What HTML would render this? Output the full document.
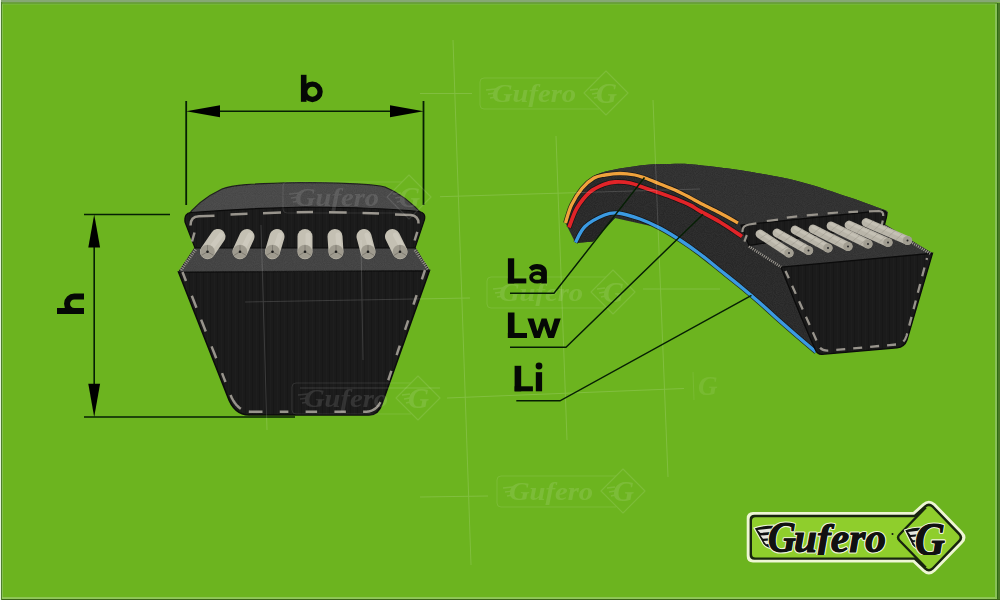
<!DOCTYPE html>
<html><head><meta charset="utf-8"><style>
html,body{margin:0;padding:0;width:1000px;height:600px;overflow:hidden;background:#6cb41f;}
svg{display:block;position:absolute;left:0;top:0;}
</style></head><body>
<svg width="1000" height="600" viewBox="0 0 1000 600">
<defs>
<filter id="grain" x="0" y="0" width="100%" height="100%" color-interpolation-filters="sRGB">
<feTurbulence type="fractalNoise" baseFrequency="1.1" numOctaves="1" seed="7" result="t"/>
<feColorMatrix in="t" type="matrix" values="0 0 0 0 1  0 0 0 0 1  0 0 0 0 1  0 0 0 0.09 0" result="n"/>
<feComposite in="n" in2="SourceAlpha" operator="in" result="nn"/>
<feMerge><feMergeNode in="SourceGraphic"/><feMergeNode in="nn"/></feMerge>
</filter>
<pattern id="stripes" width="7" height="10" patternUnits="userSpaceOnUse">
<rect width="7" height="10" fill="#1b1b1b"/>
<rect x="0" width="1" height="10" fill="#171717"/>
<rect x="4" width="1" height="10" fill="#1e1e1e"/>
</pattern>
<clipPath id="logoclip"><rect x="740" y="510" width="240" height="45"/></clipPath>
</defs>
<rect x="0" y="0" width="1000" height="600" fill="#6cb41f"/>

<rect x="0" y="0" width="1000" height="2.5" fill="#86a874"/>
<rect x="1" y="2.5" width="996" height="1.2" fill="#5e8e3a"/>
<rect x="2" y="3.7" width="993" height="1" fill="#78b840"/>
<rect x="2" y="4" width="1" height="594" fill="#86c050"/>
<rect x="995" y="4" width="2" height="593" fill="#88c058"/>
<rect x="997" y="3" width="1" height="597" fill="#2e6a12"/>
<rect x="998" y="3" width="2" height="597" fill="#4a7a26"/>
<rect x="2" y="597.3" width="995" height="1.5" fill="#9ccc6c"/>
<rect x="1" y="599" width="999" height="1" fill="#3a6418"/>
<rect x="1" y="2" width="1" height="598" fill="#4e7c30"/>
<rect x="0" y="0" width="1" height="600" fill="#e6f4dc"/>
<line x1="186.2" y1="101" x2="186.2" y2="205" stroke="#061f04" stroke-width="1.8"/>
<line x1="423.5" y1="101" x2="423.5" y2="205" stroke="#061f04" stroke-width="1.8"/>
<line x1="205" y1="111.2" x2="405" y2="111.2" stroke="#061f04" stroke-width="1.6"/>
<path d="M186.2,111.2 L220,105.2 L220,117.2 Z" fill="#000"/>
<path d="M423.5,111.2 L390,105.2 L390,117.2 Z" fill="#000"/>
<g fill="#050805"><rect x="300.9" y="74.8" width="5.6" height="27"/></g>
<circle cx="312.4" cy="91.8" r="7.7" fill="none" stroke="#050805" stroke-width="5.3"/>
<line x1="84" y1="214.5" x2="170" y2="214.5" stroke="#061f04" stroke-width="1.6"/>
<line x1="84" y1="417" x2="295" y2="417" stroke="#061f04" stroke-width="1.6"/>
<line x1="94.2" y1="240" x2="94.2" y2="390" stroke="#061f04" stroke-width="1.6"/>
<path d="M94.2,214.5 L88.3,247.5 L100.1,247.5 Z" fill="#000"/>
<path d="M94.2,417 L88.3,383.7 L100.1,383.7 Z" fill="#000"/>
<g transform="matrix(0,-1,1,0,57,314)"><rect x="0" y="0" width="6" height="27" fill="#050805"/><path d="M3,27 L3,17.3 A7.25,7.25 0 0 1 17.5,17.3 L17.5,27" fill="none" stroke="#050805" stroke-width="6"/></g>
<g><path d="M178.5,272 L429.5,270.5 L382,404 Q378.5,415 369,415 L249,415 Q234,415 227.4,396 Z" fill="url(#stripes)" stroke="#0b0b0b" stroke-width="1.5"/><g filter="url(#grain)"><path d="M195,247.5 L415,247.5 L429.5,270.5 L178.5,272 Z" fill="#3c3c3c" stroke="#101010" stroke-width="1"/><path d="M185,219 C192,209 205,197 222,189 C232,185 250,183.5 305,182.5 C350,183 372,184 385,187 C400,193 414,205 424,216 L190,214 Z" fill="#424242" stroke="#161616" stroke-width="1.2"/></g><path d="M191,212.5 Q250,208 305,207 Q380,207.5 419,211.5 Q426,212.5 424.5,219.5 L415,248 L195,248 L185,222 Q184,213 191,212.5 Z" fill="url(#stripes)" stroke="#0b0b0b" stroke-width="1.2"/><path d="M192,241.5 L194.5,232.5 M190.5,225.5 Q190.5,216.5 199,216.3 L214.5,215.7 M230.5,214.4 L247.5,213.8 M263,213.2 L281,212.6 M296.7,212.3 L313,212.1 M329,212.2 L346.7,212.4 M362.5,212.9 L379,213.4 M395,214.4 L411,215 Q418.5,215.8 418.5,223.5 M417.3,231.8 L414.6,240.5" fill="none" stroke="#98948c" stroke-width="2.5" stroke-linecap="butt"/><path d="M182.50,272.00 L183.66,274.98 L184.82,277.95 L185.99,280.93 M191.80,295.80 L192.96,298.77 L194.12,301.75 L195.29,304.73 L196.45,307.70 M201.10,319.60 L202.26,322.57 L203.43,325.55 L204.59,328.52 L205.75,331.50 M211.56,346.38 L212.72,349.35 L213.89,352.32 L215.05,355.30 L216.21,358.27 M222.03,373.15 L223.19,376.12 L224.35,379.10 L225.51,382.07 M230.48,394.93 L230.88,395.85 L231.28,396.74 L231.69,397.61 L232.12,398.45 L232.56,399.27 L233.00,400.06 L233.46,400.82 L233.92,401.56 L234.40,402.27 L234.88,402.95 L235.38,403.61 L235.88,404.25 L236.39,404.86 L236.92,405.44 L237.46,405.99 L238.00,406.53 L238.56,407.03 L239.12,407.51 L239.69,407.96 L240.28,408.39 L240.88,408.79 M248.80,411.58 L249.52,411.65 L250.25,411.69 L251.00,411.70 L253.88,411.70 L256.75,411.70 L259.62,411.70 L262.50,411.70 M279.75,411.70 L282.62,411.70 L285.50,411.70 L288.38,411.70 M305.62,411.70 L308.50,411.70 L311.38,411.70 L314.25,411.70 L317.12,411.70 M334.38,411.70 L337.25,411.70 L340.12,411.70 L343.00,411.70 L345.88,411.70 M363.12,411.70 L366.00,411.70 L366.60,411.68 L367.18,411.64 L367.76,411.58 L368.33,411.51 L368.89,411.41 L369.44,411.30 L369.99,411.16 L370.52,411.01 L371.05,410.84 L371.56,410.64 L372.07,410.43 L372.57,410.20 L373.06,409.95 L373.54,409.69 L374.02,409.40 L374.48,409.09 L374.94,408.77 L375.38,408.42 L375.82,408.06 L376.25,407.68 L376.67,407.27 L377.08,406.85 L377.49,406.41 L377.88,405.95 L378.27,405.47 L378.64,404.98 L379.01,404.46 L379.37,403.92 L379.72,403.37 L380.06,402.79 L380.40,402.20 M388.25,380.25 L389.30,377.10 L390.35,373.95 L391.40,370.80 M396.65,355.05 L397.70,351.90 L398.75,348.75 L399.80,345.60 M405.05,329.85 L406.10,326.70 L407.15,323.55 L408.20,320.40 M413.45,304.65 L414.50,301.50 L415.55,298.35 L416.60,295.20 M421.85,279.45 L422.90,276.30 L423.95,273.15 L425.00,270.00" fill="none" stroke="#98948c" stroke-width="2.5"/><path d="M195.5,249.5 L180.5,270.5" stroke="#9a968e" stroke-width="3.2" stroke-dasharray="1 1.2"/><path d="M415,250 L428,269" stroke="#9a968e" stroke-width="3.2" stroke-dasharray="1 1.2"/><line x1="218" y1="236.5" x2="207.5" y2="251.7" stroke="#c4c0b3" stroke-width="15" stroke-linecap="round"/><line x1="221" y1="235" x2="210.5" y2="248.7" stroke="#d4d0c4" stroke-width="5" stroke-linecap="round" opacity="0.6"/><ellipse cx="207.5" cy="251.7" rx="7.3" ry="7" fill="#9f9b8f"/><path d="M207.5,251.7 L207.5,245.2 M207.5,251.7 L201.5,255.29999999999998 M207.5,251.7 L213.5,255.29999999999998" stroke="#7d796f" stroke-width="0.9"/><circle cx="207.5" cy="251.7" r="1.3" fill="#1a1a1a"/><line x1="247" y1="236.5" x2="240" y2="251.7" stroke="#c4c0b3" stroke-width="15" stroke-linecap="round"/><line x1="250" y1="235" x2="243" y2="248.7" stroke="#d4d0c4" stroke-width="5" stroke-linecap="round" opacity="0.6"/><ellipse cx="240" cy="251.7" rx="7.3" ry="7" fill="#9f9b8f"/><path d="M240,251.7 L240,245.2 M240,251.7 L234,255.29999999999998 M240,251.7 L246,255.29999999999998" stroke="#7d796f" stroke-width="0.9"/><circle cx="240" cy="251.7" r="1.3" fill="#1a1a1a"/><line x1="277" y1="236.5" x2="272.5" y2="251.7" stroke="#c4c0b3" stroke-width="15" stroke-linecap="round"/><line x1="280" y1="235" x2="275.5" y2="248.7" stroke="#d4d0c4" stroke-width="5" stroke-linecap="round" opacity="0.6"/><ellipse cx="272.5" cy="251.7" rx="7.3" ry="7" fill="#9f9b8f"/><path d="M272.5,251.7 L272.5,245.2 M272.5,251.7 L266.5,255.29999999999998 M272.5,251.7 L278.5,255.29999999999998" stroke="#7d796f" stroke-width="0.9"/><circle cx="272.5" cy="251.7" r="1.3" fill="#1a1a1a"/><line x1="305" y1="236.5" x2="305" y2="251.7" stroke="#c4c0b3" stroke-width="15" stroke-linecap="round"/><line x1="308" y1="235" x2="308" y2="248.7" stroke="#d4d0c4" stroke-width="5" stroke-linecap="round" opacity="0.6"/><ellipse cx="305" cy="251.7" rx="7.3" ry="7" fill="#9f9b8f"/><path d="M305,251.7 L305,245.2 M305,251.7 L299,255.29999999999998 M305,251.7 L311,255.29999999999998" stroke="#7d796f" stroke-width="0.9"/><circle cx="305" cy="251.7" r="1.3" fill="#1a1a1a"/><line x1="335" y1="236.5" x2="336" y2="251.7" stroke="#c4c0b3" stroke-width="15" stroke-linecap="round"/><line x1="338" y1="235" x2="339" y2="248.7" stroke="#d4d0c4" stroke-width="5" stroke-linecap="round" opacity="0.6"/><ellipse cx="336" cy="251.7" rx="7.3" ry="7" fill="#9f9b8f"/><path d="M336,251.7 L336,245.2 M336,251.7 L330,255.29999999999998 M336,251.7 L342,255.29999999999998" stroke="#7d796f" stroke-width="0.9"/><circle cx="336" cy="251.7" r="1.3" fill="#1a1a1a"/><line x1="364" y1="236.5" x2="368" y2="251.7" stroke="#c4c0b3" stroke-width="15" stroke-linecap="round"/><line x1="367" y1="235" x2="371" y2="248.7" stroke="#d4d0c4" stroke-width="5" stroke-linecap="round" opacity="0.6"/><ellipse cx="368" cy="251.7" rx="7.3" ry="7" fill="#9f9b8f"/><path d="M368,251.7 L368,245.2 M368,251.7 L362,255.29999999999998 M368,251.7 L374,255.29999999999998" stroke="#7d796f" stroke-width="0.9"/><circle cx="368" cy="251.7" r="1.3" fill="#1a1a1a"/><line x1="392.5" y1="236.5" x2="400" y2="251.7" stroke="#c4c0b3" stroke-width="15" stroke-linecap="round"/><line x1="395.5" y1="235" x2="403" y2="248.7" stroke="#d4d0c4" stroke-width="5" stroke-linecap="round" opacity="0.6"/><ellipse cx="400" cy="251.7" rx="7.3" ry="7" fill="#9f9b8f"/><path d="M400,251.7 L400,245.2 M400,251.7 L394,255.29999999999998 M400,251.7 L406,255.29999999999998" stroke="#7d796f" stroke-width="0.9"/><circle cx="400" cy="251.7" r="1.3" fill="#1a1a1a"/></g>
<g><g filter="url(#grain)"><path d="M565.00,222.00 C566.00,218.83 568.17,208.92 571.00,203.00 C573.83,197.08 578.17,191.00 582.00,186.50 C585.83,182.00 589.33,178.67 594.00,176.00 C598.67,173.33 604.00,172.00 610.00,170.50 C616.00,169.00 623.33,168.00 630.00,167.00 C636.67,166.00 643.33,165.00 650.00,164.50 C656.67,164.00 663.33,164.05 670.00,164.00 C676.67,163.95 681.67,163.62 690.00,164.20 C698.33,164.78 710.00,166.25 720.00,167.50 C730.00,168.75 736.67,169.33 750.00,171.70 C763.33,174.07 783.33,177.40 800.00,181.70 C816.67,186.00 835.67,192.70 850.00,197.50 C864.33,202.30 880.00,208.33 886.00,210.50 L888,212.5 L884.5,225 L932.5,253.3 L907,340 Q904.5,347 897,347.8 L822,354.3 Q817,354.5 815,349  C812.67,349.17 802.67,340.75 796.00,335.00 C789.33,329.25 782.00,322.83 776.00,317.50 C770.00,312.17 766.00,308.25 760.00,303.00 C754.00,297.75 746.67,291.50 740.00,286.00 C733.33,280.50 726.67,275.33 720.00,270.00 C713.33,264.67 706.67,259.00 700.00,254.00 C693.33,249.00 686.67,244.33 680.00,240.00 C673.33,235.67 663.33,230.00 660.00,228.00 L615,218 L593,241.5 L575.5,243 Z" fill="#222222"/><path d="M565.00,222.00 C566.00,218.83 568.17,208.92 571.00,203.00 C573.83,197.08 578.17,191.00 582.00,186.50 C585.83,182.00 589.33,178.67 594.00,176.00 C598.67,173.33 604.00,172.00 610.00,170.50 C616.00,169.00 623.33,168.00 630.00,167.00 C636.67,166.00 643.33,165.00 650.00,164.50 C656.67,164.00 663.33,164.05 670.00,164.00 C676.67,163.95 681.67,163.62 690.00,164.20 C698.33,164.78 710.00,166.25 720.00,167.50 C730.00,168.75 736.67,169.33 750.00,171.70 C763.33,174.07 783.33,177.40 800.00,181.70 C816.67,186.00 835.67,192.70 850.00,197.50 C864.33,202.30 880.00,208.33 886.00,210.50 L888,212.5 L740,225.5  C735.00,221.33 726.33,216.33 720.00,213.00 C713.67,209.67 705.00,205.58 700.00,203.00 C695.00,200.42 694.17,199.67 690.00,197.50 C685.83,195.33 680.00,192.25 675.00,190.00 C670.00,187.75 665.00,186.00 660.00,184.00 C655.00,182.00 649.17,179.50 645.00,178.00 C640.83,176.50 639.17,175.75 635.00,175.00 C630.83,174.25 625.00,173.50 620.00,173.50 C615.00,173.50 609.33,174.25 605.00,175.00 C600.67,175.75 597.83,175.75 594.00,178.00 C590.17,180.25 585.75,184.00 582.00,188.50 C578.25,193.00 574.25,199.25 571.50,205.00 C568.75,210.75 566.50,220.00 565.50,223.00 Z" fill="#292929"/><path d="M575.5,243 L593,241.5 L615,218 C600,215 586,226 575.5,243 Z" fill="#1c1c1c"/><path d="M748,245 L884.5,224 L932.5,253.3 L781,267.2 Z" fill="#2c2c2c"/></g><path d="M565.50,223.00 C566.50,220.00 568.75,210.75 571.50,205.00 C574.25,199.25 578.25,193.00 582.00,188.50 C585.75,184.00 590.17,180.25 594.00,178.00 C597.83,175.75 600.67,175.75 605.00,175.00 C609.33,174.25 615.00,173.50 620.00,173.50 C625.00,173.50 630.83,174.25 635.00,175.00 C639.17,175.75 640.83,176.50 645.00,178.00 C649.17,179.50 655.00,182.00 660.00,184.00 C665.00,186.00 670.00,187.75 675.00,190.00 C680.00,192.25 685.83,195.33 690.00,197.50 C694.17,199.67 695.00,200.42 700.00,203.00 C705.00,205.58 713.67,209.67 720.00,213.00 C726.33,216.33 735.00,221.33 738.00,223.00" fill="none" stroke="#101010" stroke-width="4.699999999999999" stroke-linecap="butt" opacity="0.8"/><path d="M565.50,223.00 C566.50,220.00 568.75,210.75 571.50,205.00 C574.25,199.25 578.25,193.00 582.00,188.50 C585.75,184.00 590.17,180.25 594.00,178.00 C597.83,175.75 600.67,175.75 605.00,175.00 C609.33,174.25 615.00,173.50 620.00,173.50 C625.00,173.50 630.83,174.25 635.00,175.00 C639.17,175.75 640.83,176.50 645.00,178.00 C649.17,179.50 655.00,182.00 660.00,184.00 C665.00,186.00 670.00,187.75 675.00,190.00 C680.00,192.25 685.83,195.33 690.00,197.50 C694.17,199.67 695.00,200.42 700.00,203.00 C705.00,205.58 713.67,209.67 720.00,213.00 C726.33,216.33 735.00,221.33 738.00,223.00" fill="none" stroke="#f0a23c" stroke-width="3.3" stroke-linecap="butt"/><path d="M569.00,227.50 C570.33,224.25 573.50,213.92 577.00,208.00 C580.50,202.08 585.42,195.97 590.00,192.00 C594.58,188.03 600.33,185.87 604.50,184.20 C608.67,182.53 610.75,182.20 615.00,182.00 C619.25,181.80 625.00,182.00 630.00,183.00 C635.00,184.00 640.00,186.33 645.00,188.00 C650.00,189.67 655.00,191.25 660.00,193.00 C665.00,194.75 670.00,196.50 675.00,198.50 C680.00,200.50 685.83,202.92 690.00,205.00 C694.17,207.08 695.00,208.17 700.00,211.00 C705.00,213.83 713.00,217.75 720.00,222.00 C727.00,226.25 738.33,234.08 742.00,236.50" fill="none" stroke="#101010" stroke-width="5.199999999999999" stroke-linecap="butt" opacity="0.8"/><path d="M569.00,227.50 C570.33,224.25 573.50,213.92 577.00,208.00 C580.50,202.08 585.42,195.97 590.00,192.00 C594.58,188.03 600.33,185.87 604.50,184.20 C608.67,182.53 610.75,182.20 615.00,182.00 C619.25,181.80 625.00,182.00 630.00,183.00 C635.00,184.00 640.00,186.33 645.00,188.00 C650.00,189.67 655.00,191.25 660.00,193.00 C665.00,194.75 670.00,196.50 675.00,198.50 C680.00,200.50 685.83,202.92 690.00,205.00 C694.17,207.08 695.00,208.17 700.00,211.00 C705.00,213.83 713.00,217.75 720.00,222.00 C727.00,226.25 738.33,234.08 742.00,236.50" fill="none" stroke="#e12428" stroke-width="3.8" stroke-linecap="butt"/><path d="M575.50,242.50 C577.08,239.83 580.17,231.08 585.00,226.50 C589.83,221.92 599.00,217.25 604.50,215.00 C610.00,212.75 612.08,212.33 618.00,213.00 C623.92,213.67 633.00,216.50 640.00,219.00 C647.00,221.50 653.33,224.50 660.00,228.00 C666.67,231.50 673.33,235.67 680.00,240.00 C686.67,244.33 693.33,249.00 700.00,254.00 C706.67,259.00 713.33,264.67 720.00,270.00 C726.67,275.33 733.33,280.50 740.00,286.00 C746.67,291.50 754.00,297.75 760.00,303.00 C766.00,308.25 770.00,312.17 776.00,317.50 C782.00,322.83 789.33,329.25 796.00,335.00 C802.67,340.75 812.67,349.17 816.00,352.00" fill="none" stroke="#101010" stroke-width="4.8" stroke-linecap="butt" opacity="0.8"/><path d="M575.50,242.50 C577.08,239.83 580.17,231.08 585.00,226.50 C589.83,221.92 599.00,217.25 604.50,215.00 C610.00,212.75 612.08,212.33 618.00,213.00 C623.92,213.67 633.00,216.50 640.00,219.00 C647.00,221.50 653.33,224.50 660.00,228.00 C666.67,231.50 673.33,235.67 680.00,240.00 C686.67,244.33 693.33,249.00 700.00,254.00 C706.67,259.00 713.33,264.67 720.00,270.00 C726.67,275.33 733.33,280.50 740.00,286.00 C746.67,291.50 754.00,297.75 760.00,303.00 C766.00,308.25 770.00,312.17 776.00,317.50 C782.00,322.83 789.33,329.25 796.00,335.00 C802.67,340.75 812.67,349.17 816.00,352.00" fill="none" stroke="#3b9ae2" stroke-width="3.4" stroke-linecap="butt"/><path d="M741,225 L880,210.8 Q887.5,210 886.6,216.5 L884.5,225 L749,245.5 Z" fill="url(#stripes)" stroke="#0b0b0b" stroke-width="1.2"/><path d="M781,267.2 L932.5,253.3 L907,340 Q904.5,347 897,347.8 L822,354.3 Q817,354.5 815,349 C803,322 792,295 781,267.2 Z" fill="url(#stripes)" stroke="#0b0b0b" stroke-width="1.3"/><path d="M744.4,241.6 L746.8,235 M742.5,232 Q742,225.5 749,224.5 L756.4,223.4 M766.8,221 L778,219.6 M786.8,217.6 L797.2,216.4 M806.8,215.4 L818,214.3 M827.6,213.3 L838,212.5 M848.4,212.1 L858,211.7 M869,211.4 L879,211 Q883.5,211 883.2,216 M882.8,220.5 L881.6,225.6" fill="none" stroke="#98948c" stroke-width="2.2"/><path d="M927,258 L906.5,336 Q904,344 896,344.5 L829,350.5 Q820.5,351.5 818,344 Q800,303 785.5,271" fill="none" stroke="#98948c" stroke-width="2.3" stroke-dasharray="9 8" stroke-dashoffset="7.1"/><path d="M749,246.5 L781,267" stroke="#a6a29a" stroke-width="2.6" stroke-dasharray="1 1.2"/><path d="M884,226 L931,254" stroke="#a6a29a" stroke-width="2.6" stroke-dasharray="1 1.2"/><line x1="760" y1="234" x2="789" y2="253" stroke="#b9b5a9" stroke-width="8.8" stroke-linecap="round"/><line x1="760" y1="232" x2="788" y2="250.8" stroke="#cdc9bd" stroke-width="3" stroke-linecap="round" opacity="0.6"/><line x1="759.21" y1="238.86" x2="767.48" y2="233.52" stroke="#9c988c" stroke-width="0.7" opacity="0.8"/><line x1="765.90" y1="243.24" x2="774.18" y2="237.91" stroke="#9c988c" stroke-width="0.7" opacity="0.8"/><line x1="772.59" y1="247.63" x2="780.87" y2="242.29" stroke="#9c988c" stroke-width="0.7" opacity="0.8"/><line x1="779.28" y1="252.01" x2="787.56" y2="246.68" stroke="#9c988c" stroke-width="0.7" opacity="0.8"/><ellipse cx="789" cy="253" rx="4.7" ry="4.6" fill="#a19d91"/><circle cx="789" cy="253" r="1" fill="#2a2a2a"/><line x1="777" y1="233" x2="808.5" y2="250.5" stroke="#b9b5a9" stroke-width="8.8" stroke-linecap="round"/><line x1="777" y1="231" x2="807.5" y2="248.3" stroke="#cdc9bd" stroke-width="3" stroke-linecap="round" opacity="0.6"/><line x1="776.56" y1="237.90" x2="784.43" y2="231.98" stroke="#9c988c" stroke-width="0.7" opacity="0.8"/><line x1="783.56" y1="241.79" x2="791.42" y2="235.87" stroke="#9c988c" stroke-width="0.7" opacity="0.8"/><line x1="790.55" y1="245.68" x2="798.42" y2="239.75" stroke="#9c988c" stroke-width="0.7" opacity="0.8"/><line x1="797.54" y1="249.56" x2="805.41" y2="243.64" stroke="#9c988c" stroke-width="0.7" opacity="0.8"/><ellipse cx="808.5" cy="250.5" rx="4.7" ry="4.6" fill="#a19d91"/><circle cx="808.5" cy="250.5" r="1" fill="#2a2a2a"/><line x1="795" y1="230" x2="828" y2="248" stroke="#b9b5a9" stroke-width="8.8" stroke-linecap="round"/><line x1="795" y1="228" x2="827" y2="245.8" stroke="#cdc9bd" stroke-width="3" stroke-linecap="round" opacity="0.6"/><line x1="794.60" y1="234.91" x2="802.42" y2="228.92" stroke="#9c988c" stroke-width="0.7" opacity="0.8"/><line x1="801.62" y1="238.74" x2="809.45" y2="232.75" stroke="#9c988c" stroke-width="0.7" opacity="0.8"/><line x1="808.65" y1="242.57" x2="816.47" y2="236.58" stroke="#9c988c" stroke-width="0.7" opacity="0.8"/><line x1="815.67" y1="246.40" x2="823.49" y2="240.42" stroke="#9c988c" stroke-width="0.7" opacity="0.8"/><ellipse cx="828" cy="248" rx="4.7" ry="4.6" fill="#a19d91"/><circle cx="828" cy="248" r="1" fill="#2a2a2a"/><line x1="813" y1="229" x2="848" y2="246.5" stroke="#b9b5a9" stroke-width="8.8" stroke-linecap="round"/><line x1="813" y1="227" x2="847" y2="244.3" stroke="#cdc9bd" stroke-width="3" stroke-linecap="round" opacity="0.6"/><line x1="812.78" y1="233.92" x2="820.38" y2="227.66" stroke="#9c988c" stroke-width="0.7" opacity="0.8"/><line x1="819.93" y1="237.50" x2="827.53" y2="231.24" stroke="#9c988c" stroke-width="0.7" opacity="0.8"/><line x1="827.09" y1="241.07" x2="834.69" y2="234.81" stroke="#9c988c" stroke-width="0.7" opacity="0.8"/><line x1="834.24" y1="244.65" x2="841.85" y2="238.39" stroke="#9c988c" stroke-width="0.7" opacity="0.8"/><ellipse cx="848" cy="246.5" rx="4.7" ry="4.6" fill="#a19d91"/><circle cx="848" cy="246.5" r="1" fill="#2a2a2a"/><line x1="831" y1="226" x2="868" y2="244" stroke="#b9b5a9" stroke-width="8.8" stroke-linecap="round"/><line x1="831" y1="224" x2="867" y2="241.8" stroke="#cdc9bd" stroke-width="3" stroke-linecap="round" opacity="0.6"/><line x1="830.83" y1="230.92" x2="838.36" y2="224.58" stroke="#9c988c" stroke-width="0.7" opacity="0.8"/><line x1="838.02" y1="234.42" x2="845.56" y2="228.08" stroke="#9c988c" stroke-width="0.7" opacity="0.8"/><line x1="845.22" y1="237.92" x2="852.75" y2="231.58" stroke="#9c988c" stroke-width="0.7" opacity="0.8"/><line x1="852.41" y1="241.42" x2="859.95" y2="235.08" stroke="#9c988c" stroke-width="0.7" opacity="0.8"/><line x1="859.61" y1="244.92" x2="867.14" y2="238.58" stroke="#9c988c" stroke-width="0.7" opacity="0.8"/><ellipse cx="868" cy="244" rx="4.7" ry="4.6" fill="#a19d91"/><circle cx="868" cy="244" r="1" fill="#2a2a2a"/><line x1="849" y1="225" x2="888" y2="242.5" stroke="#b9b5a9" stroke-width="8.8" stroke-linecap="round"/><line x1="849" y1="223" x2="887" y2="240.3" stroke="#cdc9bd" stroke-width="3" stroke-linecap="round" opacity="0.6"/><line x1="848.98" y1="229.92" x2="856.32" y2="223.35" stroke="#9c988c" stroke-width="0.7" opacity="0.8"/><line x1="856.28" y1="233.20" x2="863.62" y2="226.63" stroke="#9c988c" stroke-width="0.7" opacity="0.8"/><line x1="863.58" y1="236.47" x2="870.91" y2="229.90" stroke="#9c988c" stroke-width="0.7" opacity="0.8"/><line x1="870.88" y1="239.75" x2="878.21" y2="233.18" stroke="#9c988c" stroke-width="0.7" opacity="0.8"/><line x1="878.18" y1="243.02" x2="885.51" y2="236.45" stroke="#9c988c" stroke-width="0.7" opacity="0.8"/><ellipse cx="888" cy="242.5" rx="4.7" ry="4.6" fill="#a19d91"/><circle cx="888" cy="242.5" r="1" fill="#2a2a2a"/><line x1="866" y1="222.5" x2="907.5" y2="240.5" stroke="#b9b5a9" stroke-width="8.8" stroke-linecap="round"/><line x1="866" y1="220.5" x2="906.5" y2="238.3" stroke="#cdc9bd" stroke-width="3" stroke-linecap="round" opacity="0.6"/><line x1="866.04" y1="227.42" x2="873.30" y2="220.76" stroke="#9c988c" stroke-width="0.7" opacity="0.8"/><line x1="873.38" y1="230.61" x2="880.63" y2="223.94" stroke="#9c988c" stroke-width="0.7" opacity="0.8"/><line x1="880.72" y1="233.79" x2="887.97" y2="227.13" stroke="#9c988c" stroke-width="0.7" opacity="0.8"/><line x1="888.06" y1="236.97" x2="895.31" y2="230.31" stroke="#9c988c" stroke-width="0.7" opacity="0.8"/><line x1="895.40" y1="240.16" x2="902.65" y2="233.49" stroke="#9c988c" stroke-width="0.7" opacity="0.8"/><ellipse cx="907.5" cy="240.5" rx="4.7" ry="4.6" fill="#a19d91"/><circle cx="907.5" cy="240.5" r="1" fill="#2a2a2a"/></g>
<g opacity="0.11" fill="#ffffff" stroke="none"><text x="492" y="102" textLength="84" lengthAdjust="spacingAndGlyphs" font-family="Liberation Serif, serif" font-style="italic" font-weight="bold" font-size="25">Gufero</text><path d="M606,71 L628,93 L606,115 L584,93 Z" fill="none" stroke="#ffffff" stroke-width="1.1" stroke-linejoin="round"/><text x="596" y="103" font-family="Liberation Serif, serif" font-style="italic" font-weight="bold" font-size="29">G</text><path d="M599,78 L484,78 Q480,78 480,82 L480,105 Q480,109 484,109 L599,109" fill="none" stroke="#ffffff" stroke-width="0.9"/><path d="M486,90 L496,89 M488,94 L496,93 M490,98 L496,97 M590,90 L598,89 M592,94 L598,93 M594,98 L598,97" fill="none" stroke="#ffffff" stroke-width="1.4"/></g>
<g opacity="0.11" fill="#ffffff" stroke="none"><text x="295" y="206" textLength="84" lengthAdjust="spacingAndGlyphs" font-family="Liberation Serif, serif" font-style="italic" font-weight="bold" font-size="25">Gufero</text><path d="M409,175 L431,197 L409,219 L387,197 Z" fill="none" stroke="#ffffff" stroke-width="1.1" stroke-linejoin="round"/><text x="399" y="207" font-family="Liberation Serif, serif" font-style="italic" font-weight="bold" font-size="29">G</text><path d="M402,182 L287,182 Q283,182 283,186 L283,209 Q283,213 287,213 L402,213" fill="none" stroke="#ffffff" stroke-width="0.9"/><path d="M289,194 L299,193 M291,198 L299,197 M293,202 L299,201 M393,194 L401,193 M395,198 L401,197 M397,202 L401,201" fill="none" stroke="#ffffff" stroke-width="1.4"/></g>
<g opacity="0.11" fill="#ffffff" stroke="none"><text x="499" y="301" textLength="84" lengthAdjust="spacingAndGlyphs" font-family="Liberation Serif, serif" font-style="italic" font-weight="bold" font-size="25">Gufero</text><path d="M613,270 L635,292 L613,314 L591,292 Z" fill="none" stroke="#ffffff" stroke-width="1.1" stroke-linejoin="round"/><text x="603" y="302" font-family="Liberation Serif, serif" font-style="italic" font-weight="bold" font-size="29">G</text><path d="M606,277 L491,277 Q487,277 487,281 L487,304 Q487,308 491,308 L606,308" fill="none" stroke="#ffffff" stroke-width="0.9"/><path d="M493,289 L503,288 M495,293 L503,292 M497,297 L503,296 M597,289 L605,288 M599,293 L605,292 M601,297 L605,296" fill="none" stroke="#ffffff" stroke-width="1.4"/></g>
<g opacity="0.11" fill="#ffffff" stroke="none"><text x="304" y="407" textLength="84" lengthAdjust="spacingAndGlyphs" font-family="Liberation Serif, serif" font-style="italic" font-weight="bold" font-size="25">Gufero</text><path d="M418,376 L440,398 L418,420 L396,398 Z" fill="none" stroke="#ffffff" stroke-width="1.1" stroke-linejoin="round"/><text x="408" y="408" font-family="Liberation Serif, serif" font-style="italic" font-weight="bold" font-size="29">G</text><path d="M411,383 L296,383 Q292,383 292,387 L292,410 Q292,414 296,414 L411,414" fill="none" stroke="#ffffff" stroke-width="0.9"/><path d="M298,395 L308,394 M300,399 L308,398 M302,403 L308,402 M402,395 L410,394 M404,399 L410,398 M406,403 L410,402" fill="none" stroke="#ffffff" stroke-width="1.4"/></g>
<g opacity="0.11" fill="#ffffff" stroke="none"><text x="509" y="500" textLength="84" lengthAdjust="spacingAndGlyphs" font-family="Liberation Serif, serif" font-style="italic" font-weight="bold" font-size="25">Gufero</text><path d="M623,469 L645,491 L623,513 L601,491 Z" fill="none" stroke="#ffffff" stroke-width="1.1" stroke-linejoin="round"/><text x="613" y="501" font-family="Liberation Serif, serif" font-style="italic" font-weight="bold" font-size="29">G</text><path d="M616,476 L501,476 Q497,476 497,480 L497,503 Q497,507 501,507 L616,507" fill="none" stroke="#ffffff" stroke-width="0.9"/><path d="M503,488 L513,487 M505,492 L513,491 M507,496 L513,495 M607,488 L615,487 M609,492 L615,491 M611,496 L615,495" fill="none" stroke="#ffffff" stroke-width="1.4"/></g>
<g opacity="0.08" fill="#ffffff"><text x="698" y="395" font-family="Liberation Serif, serif" font-style="italic" font-weight="bold" font-size="27">G</text><path d="M693,372 L694,400" stroke="#ffffff" stroke-width="1"/></g>
<g stroke="#ffffff" stroke-width="1" opacity="0.14" fill="none">
<line x1="261" y1="225" x2="267" y2="430"/>
<line x1="361" y1="240" x2="363" y2="360"/>
<line x1="453" y1="40" x2="471" y2="565"/>
<line x1="556" y1="136" x2="567" y2="440"/>
<line x1="653" y1="100" x2="668" y2="477"/>
<line x1="245" y1="302" x2="470" y2="298"/>
<line x1="447" y1="398" x2="684" y2="388.5"/>
<line x1="300" y1="388" x2="440" y2="388"/>
<line x1="440" y1="196.7" x2="700" y2="189"/>
<line x1="643" y1="289" x2="720" y2="289"/>
<line x1="420" y1="497" x2="488" y2="496"/>
<line x1="420" y1="93.5" x2="472" y2="93.5"/>
</g>
<path d="M510,293.3 L554,293.3 L644.5,177.5" fill="none" stroke="#061f04" stroke-width="1.45"/>
<path d="M510,347.2 L566,347.2 L703,214.3" fill="none" stroke="#061f04" stroke-width="1.45"/>
<path d="M516.3,400.8 L560,400.8 L751.5,295.3" fill="none" stroke="#061f04" stroke-width="1.45"/>
<g fill="#050805"><rect x="507.9" y="258.3" width="6.3" height="25.1"/><rect x="507.9" y="278.5" width="18.4" height="4.9"/><rect x="507.9" y="312.5" width="6.6" height="25.5"/><rect x="507.9" y="333" width="19.1" height="5"/><path d="M527.4,318.5 L533.7,318.5 L537.4,331.3 L541.6,318.5 L546.6,318.5 L550.8,331.3 L554.5,318.5 L560.8,318.5 L554,338 L548.2,338 L544.1,325.8 L540,338 L534.2,338 Z"/><rect x="514.6" y="365.8" width="6.6" height="25.5"/><rect x="514.6" y="386.3" width="18.3" height="5"/><rect x="535.8" y="372.2" width="6.3" height="19.1"/><circle cx="539" cy="366" r="3.4"/></g>
<path d="M528.9,267.6 C531.5,264.5 534,263.9 537,263.9 C543,263.9 546.9,267 546.9,272 L546.9,283.4 L541.3,283.4 L541.3,272 C541.3,270 539.5,269.3 537,269.3 C535,269.3 533.3,269.8 532,271 Z" fill="#050805"/>
<ellipse cx="537.3" cy="277.4" rx="6.2" ry="4.3" fill="none" stroke="#050805" stroke-width="3.8"/>
<g>
<path d="M753,512 L913,512 L922.5,503.5 Q928.9,498 935.3,503.5 L962.5,531.5 Q968.5,537.5 962.5,543.5 L935.3,571.5 Q928.9,577.5 922.5,571.5 L913,562.5 L753,562.5 Q746.7,562.5 746.7,556 L746.7,518.5 Q746.7,512 753,512 Z" fill="#eef6d4"/>
<path d="M754.5,514.8 L914.2,514.8 L924.5,505.5 Q928.9,501.5 933.3,505.5 L960,533 Q964.5,537.5 960,542 L933.3,569.5 Q928.9,573.5 924.5,569.5 L914.2,559.8 L754.5,559.8 Q749.6,559.8 749.6,555 L749.6,519.6 Q749.6,514.8 754.5,514.8 Z" fill="#17240e"/>
<path d="M755.5,517.2 L915,517.2 L925.8,507.5 Q928.9,504.8 932,507.5 L958,534.5 Q961.2,537.5 958,540.5 L932,567.5 Q928.9,570.3 925.8,567.5 L915,557.6 L755.5,557.6 Q752,557.6 752,554 L752,520.8 Q752,517.2 755.5,517.2 Z" fill="#8fce2c"/>
<path d="M925.8,507.5 L899.5,534.5 Q896.6,537.5 899.5,540.5 L925.8,567.5" fill="none" stroke="#17240e" stroke-width="2.4"/>
</g>
<g><path d="M754,528 Q762,525 774,525 L772,549 Q766,548 763,544 Z" fill="#111" stroke="#eef6d8" stroke-width="1.2"/><path d="M757.5,530 L771,528.5 L770.5,532 L760.5,533 Z M760.5,535.5 L770.5,534.8 L770,538.3 L763,538.8 Z M763.5,541 L770,540.6 L769.5,544 L766,544.2 Z" fill="#e6e6e0"/><path d="M904.5,530 Q912,527 922,527 L920,550 Q915,549 912,545 Z" fill="#111" stroke="#eef6d8" stroke-width="1.2"/><path d="M908,532 L920,530.5 L919.5,534 L910.5,535 Z M910.5,537 L919.5,536.3 L919,539.8 L913,540.3 Z M913,542.3 L919,541.9 L918.5,545.2 L915.5,545.4 Z" fill="#e6e6e0"/></g>
<g clip-path="url(#logoclip)" font-family="Liberation Serif, serif" font-style="italic" font-weight="bold" fill="#111" stroke="#eef6d8" stroke-width="3.2" paint-order="stroke" stroke-linejoin="round"><text transform="translate(768,552) scale(0.86,1)" font-size="45">G</text><text x="794" y="552" font-size="40" textLength="92" lengthAdjust="spacingAndGlyphs">ufero</text><text transform="translate(915,555) scale(0.9,1)" font-size="46">G</text></g>
<g clip-path="url(#logoclip)" font-family="Liberation Serif, serif" font-style="italic" font-weight="bold" fill="#111" stroke="#111" stroke-width="1.0"><text transform="translate(768,552) scale(0.86,1)" font-size="45">G</text><text x="794" y="552" font-size="40" textLength="92" lengthAdjust="spacingAndGlyphs">ufero</text><text transform="translate(915,555) scale(0.9,1)" font-size="46">G</text></g>
<circle cx="892.5" cy="534" r="1" fill="#111"/>
</svg></body></html>
